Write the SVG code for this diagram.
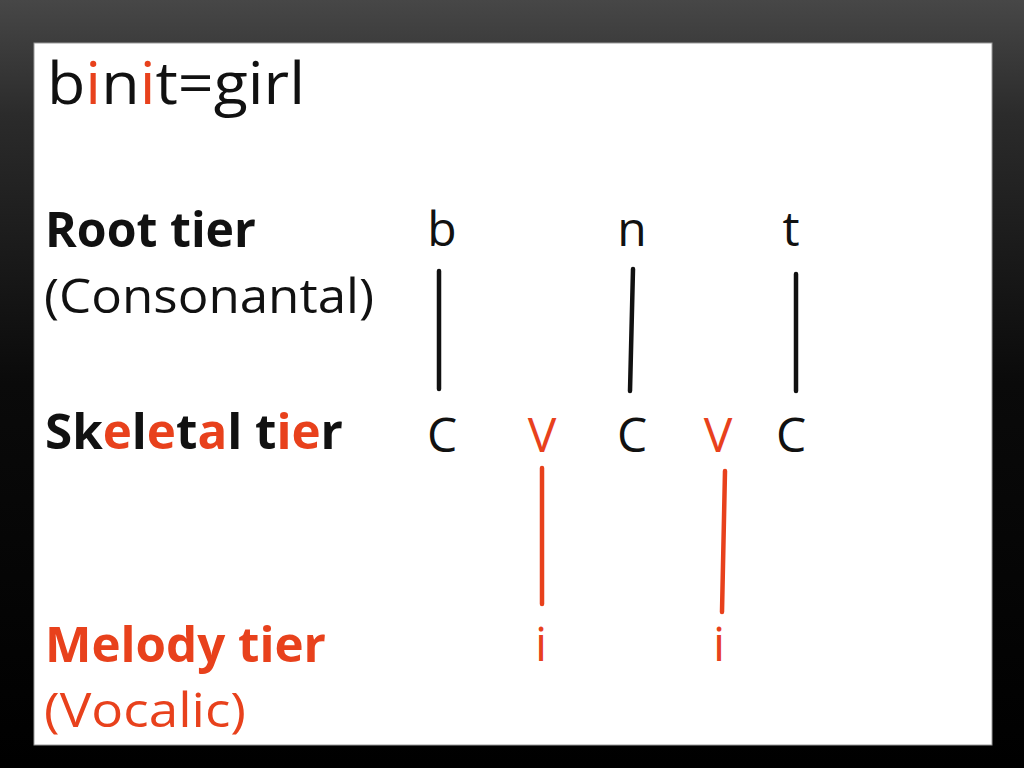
<svg xmlns="http://www.w3.org/2000/svg" width="1024" height="768" viewBox="0 0 1024 768">
  <defs>
    <linearGradient id="bg" x1="0" y1="0" x2="0" y2="1">
      <stop offset="0" stop-color="#474747"/>
      <stop offset="0.15" stop-color="#2b2b2b"/>
      <stop offset="0.5" stop-color="#0a0a0a"/>
      <stop offset="1" stop-color="#000000"/>
    </linearGradient>
  </defs>
  <style>
    text { font-family: "Open Sans", "Liberation Sans", sans-serif; font-size: 48px; fill: #111111; }
    .b { font-weight: bold; }
    .r { fill: #e8411c; }
    .mid { text-anchor: middle; }
    .title { font-size: 58px; }
    .k { stroke: #111111; stroke-width: 4.5; stroke-linecap: round; fill: none; }
    .kr { stroke: #e8411c; stroke-width: 4.5; stroke-linecap: round; fill: none; }
  </style>
  <rect x="0" y="0" width="1024" height="768" fill="url(#bg)"/>
  <rect x="34" y="43" width="958" height="702" fill="#ffffff" stroke="#9a9a9a" stroke-width="1"/>

  <g id="title">
    <text class="title" x="47" y="104" textLength="258" lengthAdjust="spacingAndGlyphs">b<tspan class="r">i</tspan>n<tspan class="r">i</tspan>t=girl</text>
  </g>

  <g id="labels">
    <text id="root-tier" class="b" x="45" y="247" textLength="211" lengthAdjust="spacingAndGlyphs">Root tier</text>
    <text id="consonantal" x="44" y="313" textLength="330" lengthAdjust="spacingAndGlyphs">(Consonantal)</text>
    <text id="skeletal-tier" class="b" x="45" y="449" textLength="298" lengthAdjust="spacingAndGlyphs">Sk<tspan class="r">e</tspan>l<tspan class="r">e</tspan>t<tspan class="r">a</tspan>l t<tspan class="r">ie</tspan>r</text>
    <text id="melody-tier" class="b r" x="45" y="662" textLength="281" lengthAdjust="spacingAndGlyphs">Melody tier</text>
    <text id="vocalic" class="r" x="44" y="727" textLength="202" lengthAdjust="spacingAndGlyphs">(Vocalic)</text>
  </g>

  <g id="node-b"><text class="mid" x="442" y="246">b</text></g>
  <g id="node-n"><text class="mid" x="632" y="246">n</text></g>
  <g id="node-t"><text class="mid" x="791" y="246">t</text></g>

  <g id="node-C1"><text class="mid" x="442" y="452">C</text></g>
  <g id="node-V1"><text class="mid r" x="542" y="452">V</text></g>
  <g id="node-C2"><text class="mid" x="632" y="452">C</text></g>
  <g id="node-V2"><text class="mid r" x="718" y="452">V</text></g>
  <g id="node-C3"><text class="mid" x="791" y="452">C</text></g>

  <g id="node-i1"><text class="mid r" x="541" y="661">i</text></g>
  <g id="node-i2"><text class="mid r" x="719" y="661">i</text></g>

  <g id="connectors">
    <line class="k" x1="439" y1="271" x2="439" y2="389"/>
    <line class="k" x1="633" y1="269" x2="630" y2="391"/>
    <line class="k" x1="796" y1="274" x2="796" y2="391"/>
    <line class="kr" x1="542" y1="468" x2="542" y2="604"/>
    <line class="kr" x1="725" y1="471" x2="722" y2="612"/>
  </g>
</svg>
